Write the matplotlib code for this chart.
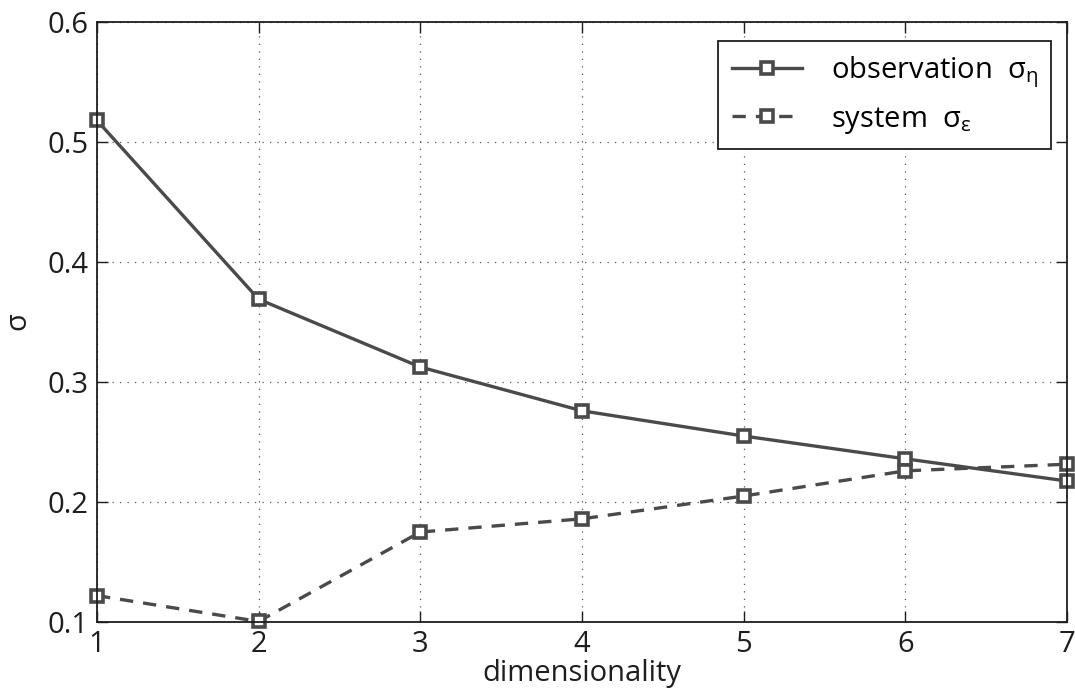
import matplotlib
matplotlib.use('Agg')
import matplotlib.pyplot as plt

# data
dims = [1, 2, 3, 4, 5, 6, 7]
obs_sigma = [0.518, 0.369, 0.3125, 0.276, 0.255, 0.236, 0.2175]
sys_sigma = [0.122, 0.1005, 0.175, 0.186, 0.205, 0.226, 0.2315]
xticks = [1, 2, 3, 4, 5, 6, 7]
yticks = [0.1, 0.2, 0.3, 0.4, 0.5, 0.6]

plt.rcParams['font.family'] = ['Open Sans', 'DejaVu Sans']
plt.rcParams['mathtext.fontset'] = 'custom'
plt.rcParams['mathtext.rm'] = 'Open Sans'
plt.rcParams['mathtext.it'] = 'Open Sans'

col = '#4a4a4a'
txt = '#1e1e1e'

fig = plt.figure(figsize=(10.75, 6.95), dpi=100)
ax = fig.add_axes([0.0902, 0.105, 0.9024, 0.8633])

ax.plot(dims, obs_sigma, '-', color=col, lw=2.4, marker='s', ms=8,
        mfc='white', mec=col, mew=2.6, label=r'observation  $\sigma_\eta$', clip_on=False)
ax.plot(dims, sys_sigma, '--', color=col, lw=2.4, dashes=(4, 3), marker='s', ms=8,
        mfc='white', mec=col, mew=2.6, label=r'system  $\sigma_\varepsilon$', clip_on=False)

ax.set_xlim(1, 7)
ax.set_ylim(0.1, 0.6)
ax.set_xticks(xticks)
ax.set_yticks(yticks)
ax.set_xticklabels([str(v) for v in xticks])
ax.set_yticklabels([f'{v:.1f}' for v in yticks])
ax.tick_params(direction='in', length=8, width=1, labelsize=21, top=True, right=True,
               colors=txt, pad=6)
ax.grid(True, linestyle=(0, (1, 5)), color='#555555', lw=0.9)
for s in ax.spines.values():
    s.set_linewidth(1.3)
    s.set_color(txt)

ax.set_xlabel('dimensionality', fontsize=21, labelpad=0, color=txt)
ax.set_ylabel(r'$\sigma$', fontsize=21, labelpad=10, color=txt)

leg = ax.legend(loc='upper right', fontsize=21, frameon=True, fancybox=False,
                edgecolor=txt, framealpha=1, handlelength=2.4,
                bbox_to_anchor=(0.9925, 0.983), borderpad=0.45, labelspacing=0.5,
                handletextpad=1.0, borderaxespad=0.3)
leg.get_frame().set_linewidth(1.3)

fig.savefig('out.png', dpi=100)
